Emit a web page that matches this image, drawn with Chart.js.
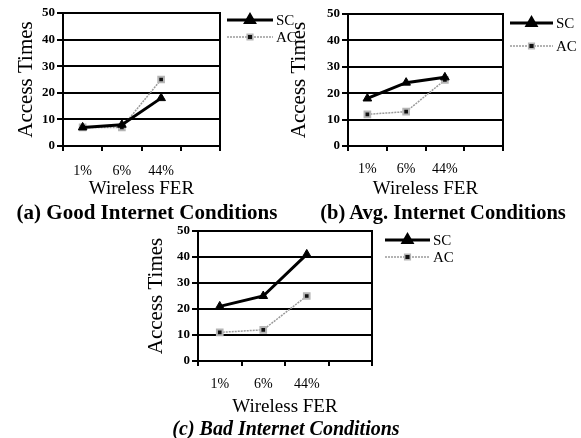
<!DOCTYPE html>
<html>
<head>
<meta charset="utf-8">
<script src="https://cdn.jsdelivr.net/npm/chart.js@4/dist/chart.umd.min.js"></script>
<style>
  body { margin: 0; background: #fff; width: 581px; height: 438px; position: relative; overflow: hidden; }
  canvas { position: absolute; }
  .cap { position: absolute; font-family: "Liberation Serif", "Times New Roman", serif; font-weight: bold; font-size: 20px; line-height: 24px; color: #000; white-space: nowrap; transform: translateX(-50%); }
</style>
</head>
<body>
<canvas id="chartA" width="300" height="200" style="left:0px;top:0px"></canvas>
<canvas id="chartB" width="296" height="200" style="left:285px;top:0px"></canvas>
<canvas id="chartC" width="335" height="203" style="left:130px;top:215px"></canvas>
<div class="cap" style="left:147px;top:200px;font-size:21px">(a) Good Internet Conditions</div>
<div class="cap" style="left:443px;top:200px;font-size:20.5px">(b) Avg. Internet Conditions</div>
<div class="cap" style="left:286px;top:416px;font-style:italic">(c) Bad Internet Conditions</div>
<script>
const categories = ['1%', '6%', '44%', ''];
const yTicks = [0, 10, 20, 30, 40, 50];

const goodSC = [7, 8, 18];
const goodAC = [7, 7, 25];
const avgSC = [18, 24, 26];
const avgAC = [12, 13, 25];
const badSC = [21, 25, 41];
const badAC = [11, 12, 25];

const serif = '"Liberation Serif", "Times New Roman", serif';

// box around the plot area
const framePlugin = {
  id: 'frame',
  afterDatasetsDraw(chart) {
    const a = chart.chartArea;
    const ctx = chart.ctx;
    ctx.save();
    ctx.strokeStyle = '#000';
    ctx.lineWidth = 2;
    ctx.strokeRect(a.left, a.top, a.right - a.left, a.bottom - a.top);
    ctx.restore();
  }
};

// legend with line + marker, like the old spreadsheet style
const lineLegend = {
  id: 'lineLegend',
  afterDraw(chart, args, opts) {
    const ctx = chart.ctx;
    chart.data.datasets.forEach((ds, i) => {
      const y = opts.y[i];
      ctx.save();
      ctx.strokeStyle = ds.borderColor;
      ctx.lineWidth = ds.borderWidth;
      ctx.setLineDash(ds.borderDash || []);
      ctx.beginPath();
      ctx.moveTo(opts.x, y);
      ctx.lineTo(opts.x + opts.len, y);
      ctx.stroke();
      ctx.setLineDash([]);
      ctx.fillStyle = ds.pointBackgroundColor;
      ctx.strokeStyle = ds.pointBorderColor;
      Chart.helpers.drawPoint(ctx, {
        pointStyle: ds.pointStyle,
        radius: ds.pointRadius,
        rotation: 0,
        borderWidth: ds.pointBorderWidth
      }, opts.x + opts.len / 2, y);
      ctx.fillStyle = '#000';
      ctx.font = '15px ' + serif;
      ctx.textBaseline = 'middle';
      ctx.fillText(ds.label, opts.x + opts.len + 3, y + 1);
      ctx.restore();
    });
  }
};

function makeChart(id, sc, ac, box) {
  return new Chart(document.getElementById(id), {
    type: 'line',
    data: {
      labels: categories,
      datasets: [
        {
          label: 'SC',
          data: sc,
          borderColor: '#000',
          borderWidth: 3,
          pointStyle: 'triangle',
          pointRadius: 5,
          pointBackgroundColor: '#000',
          pointBorderColor: '#000',
          pointBorderWidth: 1,
          tension: 0
        },
        {
          label: 'AC',
          data: ac,
          borderColor: '#9a9a9a',
          borderWidth: 1.5,
          borderDash: [2, 1],
          pointStyle: 'rect',
          pointRadius: 4,
          pointBackgroundColor: '#111',
          pointBorderColor: '#b5b5b5',
          pointBorderWidth: 2,
          tension: 0
        }
      ]
    },
    options: {
      responsive: false,
      animation: false,
      layout: { padding: { left: 0, top: box.top, right: box.right, bottom: 0 } },
      plugins: {
        legend: { display: false },
        tooltip: { enabled: false },
        lineLegend: box.legend
      },
      scales: {
        x: {
          offset: true,
          grid: { drawOnChartArea: false, offset: true, tickLength: 5, color: '#000', lineWidth: 2 },
          border: { color: '#000', width: 2 },
          ticks: { color: '#000', font: { family: serif, size: 14 }, padding: box.xPad, maxRotation: 0 },
          title: { display: true, text: 'Wireless FER', color: '#000', font: { family: serif, size: 19 }, padding: 0 },
          afterFit(scale) { scale.height = box.xHeight; }
        },
        y: {
          min: 0,
          max: 50,
          afterBuildTicks(scale) { scale.ticks = yTicks.map(v => ({ value: v })); },
          grid: { color: '#000', lineWidth: 2, tickLength: 6 },
          border: { color: '#000', width: 2 },
          ticks: { color: '#000', font: { family: serif, size: 13, weight: 'bold' }, padding: 2 },
          title: { display: true, text: 'Access Times', color: '#000', font: { family: serif, size: 21 }, padding: { top: box.titlePad, bottom: 0 } },
          afterFit(scale) { scale.width = box.yWidth; }
        }
      }
    },
    plugins: [framePlugin, lineLegend]
  });
}

makeChart('chartA', goodSC, goodAC, {
  top: 13, right: 80, yWidth: 63, xHeight: 54, xPad: 12, titlePad: 14,
  legend: { x: 227, len: 46, y: [20, 37] }
});
makeChart('chartB', avgSC, avgAC, {
  top: 14, right: 78, yWidth: 63, xHeight: 54, xPad: 10, titlePad: 2,
  legend: { x: 225, len: 43, y: [23, 46] }
});
makeChart('chartC', badSC, badAC, {
  top: 16, right: 93, yWidth: 68, xHeight: 57, xPad: 10, titlePad: 14,
  legend: { x: 255, len: 45, y: [25, 42] }
});
</script>
</body>
</html>
